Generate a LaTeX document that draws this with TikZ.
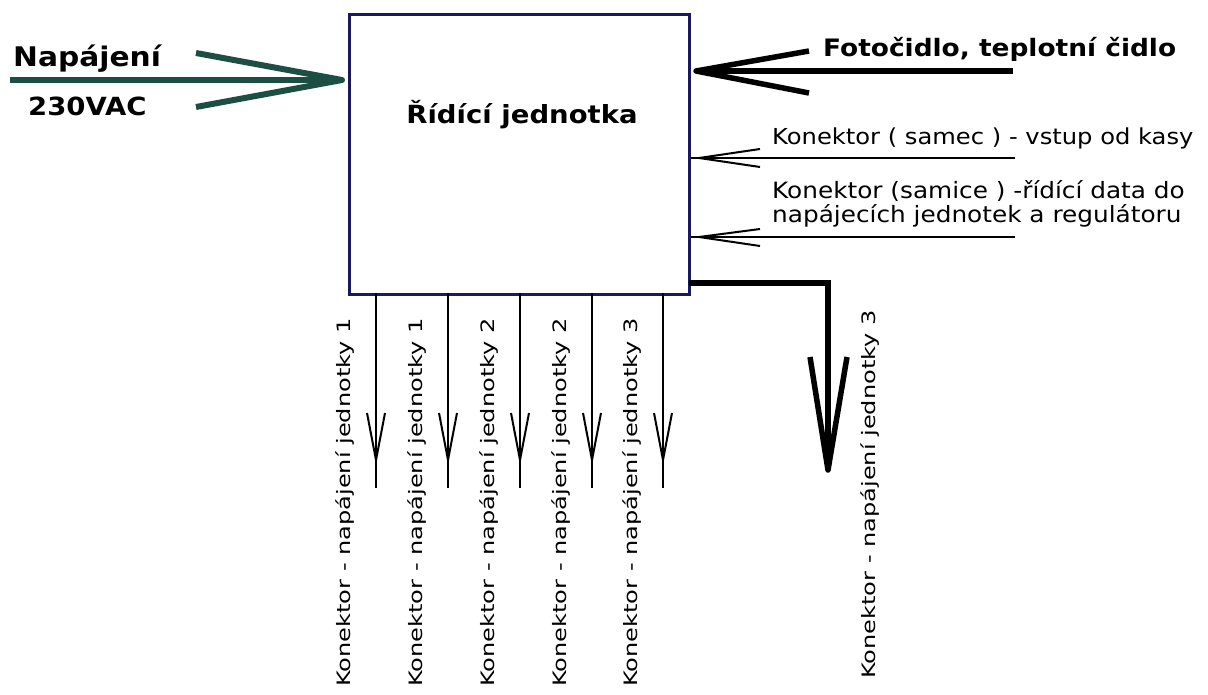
\documentclass[tikz,border=0pt]{standalone}
\usepackage{fontspec}
\setmainfont{DejaVu Sans}
\newfontfamily\pismo[FakeStretch=1.1]{DejaVu Sans}
\newfontfamily\popisek[FakeStretch=1.3]{DejaVu Sans}
\usetikzlibrary{calc}
\definecolor{ramec}{RGB}{25,25,95}
\definecolor{zelena}{RGB}{28,78,68}
\tikzset{
  tenka/.style={line width=2pt,line join=round},
  silna/.style={line width=5.5pt,line join=round},
  radek/.style={inner sep=0pt,anchor=base west,font=\pismo\fontsize{22.5}{24}\selectfont},
  tucny/.style={inner sep=0pt,anchor=base west,font=\pismo\bfseries\fontsize{25}{27}\selectfont},
  popis/.style={inner sep=0pt,rotate=90,anchor=base east,font=\popisek\fontsize{18.5}{20}\selectfont}
}
\begin{document}
\begin{tikzpicture}[x=1pt,y=-1pt]
  \useasboundingbox (0,0) rectangle (1208,695);
  % ridici jednotka
  \node[draw=ramec,line width=3pt,minimum width=340pt,minimum height=280pt,inner sep=0pt,anchor=north west] (jednotka) at (348,13) {};
  \node[tucny,anchor=base] (nazev) at (522,124) {Řídící jednotka};

  % napajeni
  \coordinate (zdroj) at (10,80);
  \coordinate (h0) at (342,80);
  \draw[zelena,line width=6pt,line join=round] (zdroj) -- (h0);
  \draw[zelena,line width=6pt,line join=round] ($(h0)+(-146,-27)$) -- (h0) -- ($(h0)+(-146,27)$);
  \node[tucny,font=\pismo\bfseries\fontsize{27}{29}\selectfont] (napajeni) at (13,67) {Napájení};
  \node[tucny] (volty) at (28,116) {230VAC};

  % fotocidlo
  \coordinate (f0) at (1013,71);
  \coordinate (f1) at (696,71);
  \draw[silna] (f0) -- (f1);
  \draw[silna] ($(f1)+(113,-20)$) -- (f1) -- ($(f1)+(113,22)$);
  \node[tucny,font=\pismo\bfseries\fontsize{24}{26}\selectfont] (cidla) at (823,57) {Fotočidlo, teplotní čidlo};

  % konektory vpravo
  \coordinate (s0) at (1015,158);
  \coordinate (s1) at (691,158);
  \draw[tenka] (s0) -- (s1);
  \draw[tenka] ($(s1)+(69,-9)$) -- ($(s1)+(8,0)$) -- ($(s1)+(69,9)$);
  \node[radek,font=\pismo\fontsize{22}{24}\selectfont] (samec) at (772,145) {Konektor ( samec ) - vstup od kasy};

  \coordinate (d0) at (1015,237);
  \coordinate (d1) at (691,237);
  \draw[tenka] (d0) -- (d1);
  \draw[tenka] ($(d1)+(69,-8)$) -- ($(d1)+(8,0)$) -- ($(d1)+(69,9)$);
  \node[radek] (samice) at (772,199) {Konektor (samice ) -řídící data do};
  \node[radek] (samice2) at (772,223) {napájecích jednotek a regulátoru};

  % konektory dole
  \coordinate (a1) at (376,293);
  \coordinate (b1) at (376,488);
  \draw[tenka] (a1) -- (b1);
  \draw[tenka] ($(b1)+(-9,-75)$) -- ($(b1)+(0,-28)$) -- ($(b1)+(9,-75)$);
  \node[popis] (p1) at (350,318) {Konektor - napájení jednotky 1};

  \coordinate (a2) at (448,293);
  \coordinate (b2) at (448,488);
  \draw[tenka] (a2) -- (b2);
  \draw[tenka] ($(b2)+(-9,-75)$) -- ($(b2)+(0,-28)$) -- ($(b2)+(9,-75)$);
  \node[popis] (p2) at (422,318) {Konektor - napájení jednotky 1};

  \coordinate (a3) at (520,293);
  \coordinate (b3) at (520,488);
  \draw[tenka] (a3) -- (b3);
  \draw[tenka] ($(b3)+(-9,-75)$) -- ($(b3)+(0,-28)$) -- ($(b3)+(9,-75)$);
  \node[popis] (p3) at (494,318) {Konektor - napájení jednotky 2};

  \coordinate (a4) at (592,293);
  \coordinate (b4) at (592,488);
  \draw[tenka] (a4) -- (b4);
  \draw[tenka] ($(b4)+(-9,-75)$) -- ($(b4)+(0,-28)$) -- ($(b4)+(9,-75)$);
  \node[popis] (p4) at (566,318) {Konektor - napájení jednotky 2};

  \coordinate (a5) at (663,293);
  \coordinate (b5) at (663,488);
  \draw[tenka] (a5) -- (b5);
  \draw[tenka] ($(b5)+(-9,-75)$) -- ($(b5)+(0,-28)$) -- ($(b5)+(9,-75)$);
  \node[popis] (p5) at (637,318) {Konektor - napájení jednotky 3};

  % silny konektor
  \coordinate (c0) at (689,283);
  \coordinate (c1) at (828,283);
  \coordinate (c2) at (828,470);
  \draw[silna,line join=miter] (c0) -- (c1) -- (c2);
  \draw[silna] ($(c2)+(-18,-113)$) -- (c2) -- ($(c2)+(19,-113)$);
  \node[popis] (p6) at (875,310) {Konektor - napájení jednotky 3};
\end{tikzpicture}
\end{document}
